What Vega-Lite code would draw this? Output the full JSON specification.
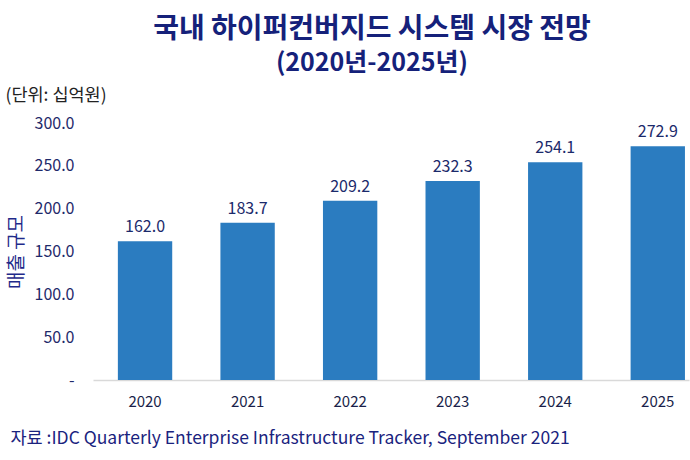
{
  "$schema": "https://vega.github.io/schema/vega-lite/v6.json",
  "autosize": {"type": "none"},
  "padding": {"left": 93, "top": 123, "right": 1, "bottom": 80},
  "width": 596,
  "height": 257,
  "background": "white",
  "config": {
    "font": "Noto Sans CJK KR",
    "view": {"stroke": null}
  },
  "title": {
    "text": "국내 하이퍼컨버지드 시스템 시장 전망",
    "subtitle": "(2020년-2025년)",
    "font": "Noto Sans CJK KR",
    "fontSize": 28,
    "fontWeight": "bold",
    "color": "#15217a",
    "subtitleFont": "Noto Sans CJK KR",
    "subtitleFontSize": 25,
    "subtitleFontWeight": "bold",
    "subtitleColor": "#15217a",
    "subtitlePadding": 7,
    "anchor": "middle",
    "frame": "group",
    "dx": -19,
    "offset": 10
  },
  "data": {
    "values": [
      {"year": "2020", "value": 162.0},
      {"year": "2021", "value": 183.7},
      {"year": "2022", "value": 209.2},
      {"year": "2023", "value": 232.3},
      {"year": "2024", "value": 254.1},
      {"year": "2025", "value": 272.9}
    ]
  },
  "encoding": {
    "x": {
      "field": "year",
      "type": "nominal",
      "sort": null,
      "scale": {"paddingInner": 0.47, "paddingOuter": 0.141, "align": 0.86}
    },
    "y": {
      "field": "value",
      "type": "quantitative",
      "scale": {"domain": [0, 300], "nice": false}
    }
  },
  "layer": [
    {
      "mark": {"type": "bar", "color": "#2b7cc0"},
      "encoding": {
        "x": {
          "field": "year",
          "type": "nominal",
          "sort": null,
          "axis": {
            "orient": "bottom",
            "labelAngle": 0,
            "labelFontSize": 15,
            "labelColor": "#1a1f4a",
            "labelPadding": 14,
            "ticks": false,
            "domainColor": "#d9d9d9",
            "domainWidth": 1.5,
            "title": "자료 :IDC Quarterly Enterprise Infrastructure Tracker, September 2021",
            "titleFontSize": 17.5,
            "titleFontWeight": "normal",
            "titleColor": "#1a237e",
            "titleAnchor": "start",
            "titleAlign": "left",
            "titleBaseline": "middle",
            "titleX": -83,
            "titleY": 58
          }
        },
        "y": {
          "field": "value",
          "type": "quantitative",
          "axis": {
            "values": [0, 50, 100, 150, 200, 250, 300],
            "labelExpr": "datum.value == 0 ? '-' : format(datum.value, '.1f')",
            "labelFontSize": 16,
            "labelColor": "#1f2a6b",
            "labelPadding": 19,
            "ticks": false,
            "domain": false,
            "grid": false,
            "title": "매출 규모",
            "titleFontSize": 19,
            "titleFontWeight": "normal",
            "titleColor": "#1f2a8a",
            "titlePadding": 8
          }
        }
      }
    },
    {
      "mark": {"type": "text", "baseline": "bottom", "dy": -6, "fontSize": 16, "color": "#1b2a6b"},
      "encoding": {
        "x": {
          "field": "year",
          "type": "nominal",
          "sort": null,
          "axis": {
            "orient": "top",
            "labels": false,
            "ticks": false,
            "domain": false,
            "title": "(단위: 십억원)",
            "titleFontSize": 17.5,
            "titleFontWeight": "normal",
            "titleColor": "#222222",
            "titleAnchor": "start",
            "titleAlign": "left",
            "titleBaseline": "middle",
            "titleX": -88,
            "titleY": -28
          }
        },
        "text": {"field": "value", "type": "quantitative", "format": ".1f"}
      }
    }
  ],
  "resolve": {"axis": {"x": "independent"}}
}
